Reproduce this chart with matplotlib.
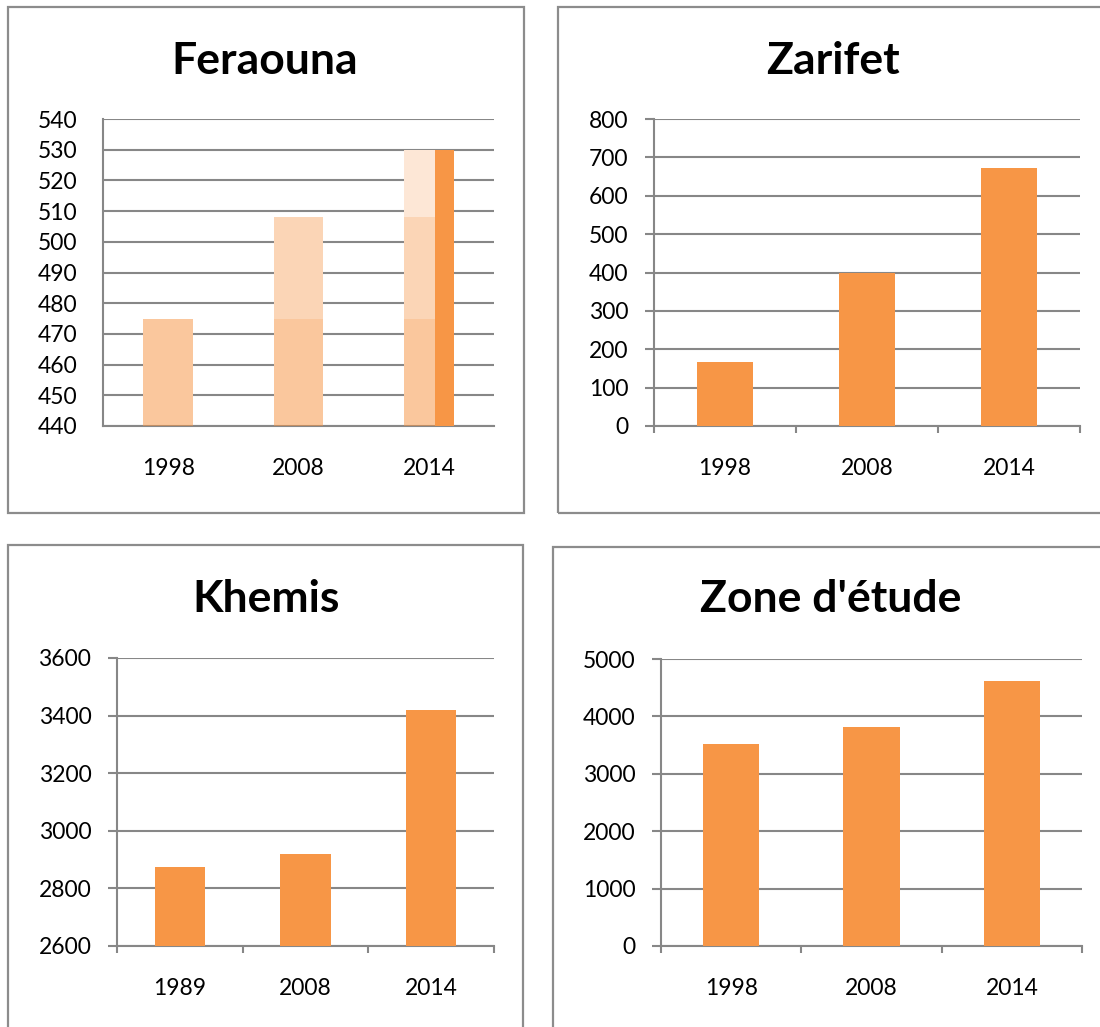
import matplotlib
matplotlib.use('Agg')
import matplotlib.pyplot as plt
from matplotlib.patches import Rectangle

# ---------------- data ----------------
feraouna_years = ['1998', '2008', '2014']
feraouna_values = [475, 508, 530]

zarifet_years = ['1998', '2008', '2014']
zarifet_values = [167, 398, 672]

khemis_years = ['1989', '2008', '2014']
khemis_values = [2876, 2919, 3418]

zone_years = ['1998', '2008', '2014']
zone_values = [3512, 3814, 4610]

feraouna_ticks = list(range(440, 541, 10))
zarifet_ticks = list(range(0, 801, 100))
khemis_ticks = list(range(2600, 3601, 200))
zone_ticks = list(range(0, 5001, 1000))

# ---------------- style ----------------
W, H = 1100, 1027
ORANGE = '#F79646'
GRID = '#878787'
BORDER = '#8C8C8C'
LABEL_SIZE = 16.5

plt.rcParams['font.family'] = ['Lato', 'DejaVu Sans']
fig = plt.figure(figsize=(W / 100, H / 100), dpi=100)


def px_axes(x0, y0, x1, y1):
    return fig.add_axes([x0 / W, 1 - y1 / H, (x1 - x0) / W, (y1 - y0) / H])


def box(x0, y0, x1, y1):
    fig.patches.append(Rectangle((x0 / W, 1 - y1 / H), (x1 - x0) / W, (y1 - y0) / H,
                                 transform=fig.transFigure, fill=False,
                                 edgecolor=BORDER, linewidth=1.6, clip_on=False))


def title(cx, baseline, text):
    fig.text(cx / W, 1 - baseline / H, text, ha='center', va='baseline',
             fontsize=32, fontweight='bold', color='black')


def setup(ax, cats, ylim, yticks, ticks_out=True):
    n = len(cats)
    ax.set_xlim(-0.5, n - 0.5)
    ax.set_ylim(*ylim)
    ax.set_yticks(yticks)
    ax.yaxis.grid(True, color=GRID, linewidth=1.5)
    ax.set_axisbelow(True)
    for s in ['top', 'right']:
        ax.spines[s].set_visible(False)
    for s in ['left', 'bottom']:
        ax.spines[s].set_color(GRID)
        ax.spines[s].set_linewidth(1.5)
    ax.set_xticks(list(range(n)))
    ax.set_xticklabels(cats)
    ax.tick_params(axis='x', which='major', length=0, pad=23, labelsize=LABEL_SIZE,
                   labelcolor='black')
    if ticks_out:
        ax.set_xticks([i - 0.5 for i in range(n + 1)], minor=True)
        ax.tick_params(axis='x', which='minor', length=5, width=1.5, color=GRID,
                       direction='out')
        ax.tick_params(axis='y', length=6.5, width=1.5, color=GRID, pad=12,
                       labelsize=LABEL_SIZE, labelcolor='black')
    else:
        ax.tick_params(axis='y', length=0, pad=18.7, labelsize=LABEL_SIZE,
                       labelcolor='black')


# panel frames
box(8, 7, 524, 513)
box(558, 7, 1110, 513)
box(8, 545, 523, 1040)
box(553, 547, 1110, 1040)

# ---------------- Feraouna ----------------
ax1 = px_axes(103, 119, 494, 426)
setup(ax1, feraouna_years, (440, 540), feraouna_ticks, ticks_out=False)
x = list(range(len(feraouna_values)))
w = 0.38
ax1.bar(x, feraouna_values, width=w, color='white', linewidth=0, zorder=2)
for k in range(len(feraouna_values)):
    ax1.bar(x, [min(v, feraouna_values[k]) for v in feraouna_values], width=w,
            color=ORANGE, alpha=0.22, linewidth=0, zorder=3)
frac = 0.37
ax1.bar(x[-1] + w / 2 - w * frac / 2, feraouna_values[-1], width=w * frac,
        color=ORANGE, linewidth=0, zorder=4)
title(265, 74, 'Feraouna')

# ---------------- Zarifet ----------------
ax2 = px_axes(654, 119, 1080, 426)
setup(ax2, zarifet_years, (0, 800), zarifet_ticks)
ax2.bar(range(len(zarifet_values)), zarifet_values, width=0.4, color=ORANGE,
        linewidth=0, zorder=3)
title(833, 74, 'Zarifet')

# ---------------- Khemis ----------------
ax3 = px_axes(117, 658, 494, 946)
setup(ax3, khemis_years, (2600, 3600), khemis_ticks)
ax3.bar(range(len(khemis_values)), khemis_values, width=0.4, color=ORANGE,
        linewidth=0, zorder=3)
title(266, 612, 'Khemis')

# ---------------- Zone d'étude ----------------
ax4 = px_axes(661, 659, 1082, 946)
setup(ax4, zone_years, (0, 5000), zone_ticks)
ax4.bar(range(len(zone_values)), zone_values, width=0.4, color=ORANGE,
        linewidth=0, zorder=3)
title(831, 612, "Zone d'étude")

fig.savefig('out.png', dpi=100, facecolor='white')
